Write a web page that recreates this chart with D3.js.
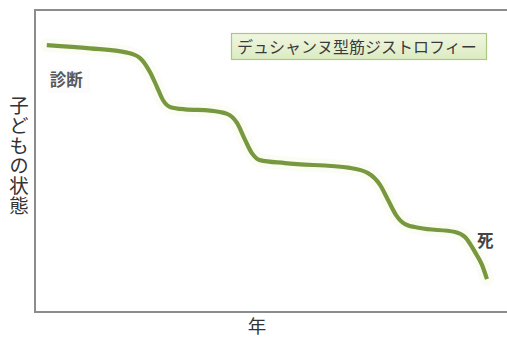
<!DOCTYPE html>
<html>
<head>
<meta charset="utf-8">
<script src="https://cdn.jsdelivr.net/npm/d3@7"></script>
<style>
  html, body { margin: 0; padding: 0; background: #fff; }
  svg { display: block; font-family: "Noto Sans CJK JP", "Noto Sans", sans-serif; }
</style>
</head>
<body>
<svg id="chart" width="507" height="338"></svg>
<script>
// Course of the condition over the years (schematic)
const years = [0.5, 2.33, 3.9, 4.45, 4.87, 5.17, 5.42, 5.72, 6.36, 7.42, 8.14, 8.56, 8.9, 9.19, 9.53,
               10.59, 13.35, 14.11, 14.62, 14.96, 15.3, 15.68, 16.31, 17.8, 18.22, 18.64, 18.94, 19.15];
const state = [88.4, 87.3, 85.9, 84.1, 79.5, 74.5, 70.2, 67.9, 67.1, 66.7, 65.6, 62.6, 57.0, 52.6, 50.3,
               49.3, 47.7, 46.0, 42.1, 37.1, 32.1, 29.1, 27.8, 26.5, 24.8, 19.9, 15.6, 10.9];
const seriesName = "デュシャンヌ型筋ジストロフィー";
const startLabel = "診断";
const endLabel = "死";
const xTitle = "年";
const yTitle = "子どもの状態";

const svg = d3.select("#chart");
const margin = { left: 35, top: 10, right: 0, bottom: 26 };
const W = 507, H = 338;

const x = d3.scaleLinear().domain([0, 20]).range([margin.left, W - margin.right]);
const y = d3.scaleLinear().domain([0, 100]).range([H - margin.bottom, margin.top]);

// plot frame (left, top and bottom borders; right side runs past the edge)
svg.append("rect")
  .attr("x", x(0)).attr("y", y(100))
  .attr("width", W + 10 - x(0)).attr("height", y(0) - y(100))
  .attr("fill", "none").attr("stroke", "#8c8c8c").attr("stroke-width", 2);

const data = years.map((d, i) => ({ year: d, value: state[i] }));

const line = d3.line().x(d => x(d.year)).y(d => y(d.value)).curve(d3.curveMonotoneX);

// soft pale halo behind the curve
svg.append("path").datum(data)
  .attr("d", line)
  .attr("fill", "none")
  .attr("stroke", "#fbfdf5")
  .attr("stroke-width", 14)
  .attr("stroke-linecap", "round");

svg.append("path").datum(data)
  .attr("d", line)
  .attr("fill", "none")
  .attr("stroke", "#78983f")
  .attr("stroke-width", 4.2)
  .attr("stroke-linecap", "butt");

// legend box
const defs = svg.append("defs");
const grad = defs.append("linearGradient").attr("id", "lg").attr("x1", 0).attr("y1", 0).attr("x2", 0).attr("y2", 1);
grad.append("stop").attr("offset", "0%").attr("stop-color", "#f0f6e0");
grad.append("stop").attr("offset", "100%").attr("stop-color", "#dcebc2");

const lg = svg.append("g");
lg.append("rect")
  .attr("x", 231.5).attr("y", 33.5).attr("width", 255).attr("height", 26)
  .attr("fill", "url(#lg)").attr("stroke", "#a9c97c").attr("stroke-width", 1.2);
lg.append("text")
  .attr("x", 237).attr("y", 52.5)
  .attr("font-size", 16).attr("fill", "#3a3a3a")
  .text(seriesName);

// start / end annotations
const first = data[0], last = data[data.length - 1];
svg.append("rect").attr("x", x(first.year) + 1).attr("y", y(first.value) + 24).attr("width", 42).attr("height", 24).attr("fill", "#fcfcfc");
svg.append("text")
  .attr("x", x(first.year) + 3).attr("y", y(first.value) + 41)
  .attr("font-size", 16.5).attr("font-weight", "bold").attr("fill", "#585858")
  .text(startLabel);

svg.append("text")
  .attr("x", x(last.year) - 10).attr("y", y(last.value) - 32)
  .attr("font-size", 16.5).attr("font-weight", "bold").attr("fill", "#444")
  .text(endLabel);

// axis titles
svg.append("text")
  .attr("x", (x(0) + W) / 2 - 14).attr("y", 333)
  .attr("text-anchor", "middle")
  .attr("font-size", 18.5).attr("fill", "#333")
  .text(xTitle);

svg.append("text")
  .attr("x", 19).attr("y", 96)
  .attr("font-size", 19.5).attr("fill", "#333")
  .style("writing-mode", "vertical-rl")
  .style("text-orientation", "upright")
  .style("letter-spacing", "0.5px")
  .text(yTitle);
</script>
</body>
</html>
